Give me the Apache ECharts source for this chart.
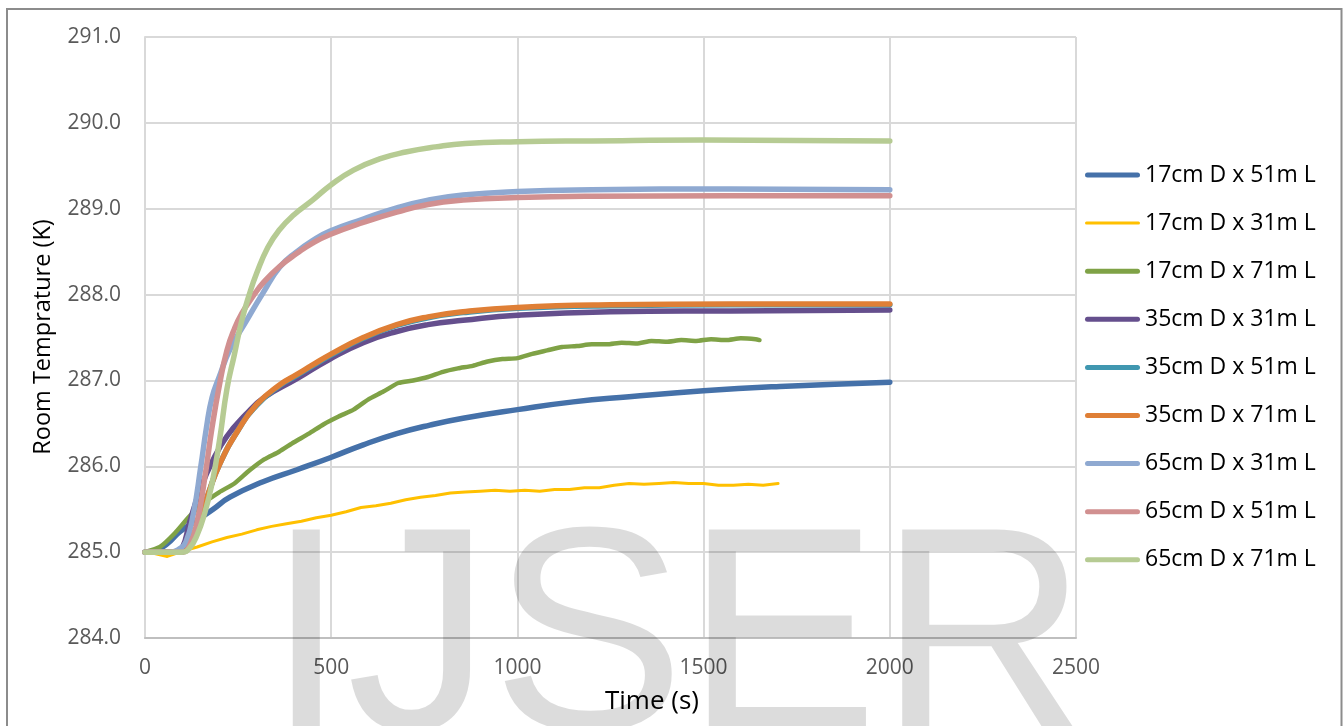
<!DOCTYPE html>
<html>
<head>
<meta charset="utf-8">
<script src="https://cdn.jsdelivr.net/npm/echarts@6/dist/echarts.min.js"></script>
<style>
  html, body { margin: 0; padding: 0; background: #ffffff; }
  #chart { width: 1343px; height: 726px; }
</style>
</head>
<body>
<div id="chart"></div>
<script>
// Axis ranges and ticks
const xTicks = [0, 500, 1000, 1500, 2000, 2500];
const yTicks = [284, 285, 286, 287, 288, 289, 290, 291];

const seriesNames = [
  '17cm D x 51m L', '17cm D x 31m L', '17cm D x 71m L',
  '35cm D x 31m L', '35cm D x 51m L', '35cm D x 71m L',
  '65cm D x 31m L', '65cm D x 51m L', '65cm D x 71m L'
];

// 17cm D x 51m L
const t17x51 = [0, 30, 60, 94, 139, 183, 228, 317, 408, 497, 586, 676, 765, 854, 1000, 1150, 1300, 1500, 1705, 2000];
const k17x51 = [285.00, 285.02, 285.10, 285.24, 285.37, 285.50, 285.64, 285.82, 285.96, 286.10, 286.25, 286.38, 286.48, 286.56, 286.66, 286.75, 286.81, 286.88, 286.93, 286.98];

// 17cm D x 31m L
const t17x31 = [0, 20, 40, 60, 80, 100, 140, 180, 220, 260, 300, 340, 380, 420, 460, 500, 540, 580, 620, 660, 700, 740, 780, 820, 860, 900, 940, 980, 1020, 1060, 1100, 1140, 1180, 1220, 1260, 1300, 1340, 1380, 1420, 1460, 1500, 1540, 1580, 1620, 1660, 1700];
const k17x31 = [285.00, 284.99, 284.97, 284.95, 284.98, 285.01, 285.06, 285.12, 285.17, 285.21, 285.26, 285.30, 285.33, 285.36, 285.40, 285.43, 285.47, 285.52, 285.54, 285.57, 285.61, 285.64, 285.66, 285.69, 285.70, 285.71, 285.72, 285.71, 285.72, 285.71, 285.73, 285.73, 285.75, 285.75, 285.78, 285.80, 285.79, 285.80, 285.81, 285.80, 285.80, 285.78, 285.78, 285.79, 285.78, 285.80];

// 17cm D x 71m L
const t17x71 = [0, 40, 80, 120, 160, 200, 240, 280, 320, 360, 400, 440, 480, 520, 560, 600, 640, 680, 720, 760, 800, 840, 880, 920, 960, 1000, 1040, 1080, 1120, 1160, 1200, 1240, 1280, 1320, 1360, 1400, 1440, 1480, 1520, 1560, 1600, 1640, 1650];
const k17x71 = [285.00, 285.06, 285.22, 285.42, 285.58, 285.70, 285.80, 285.95, 286.08, 286.17, 286.28, 286.38, 286.49, 286.58, 286.66, 286.78, 286.87, 286.97, 287.00, 287.04, 287.10, 287.14, 287.17, 287.22, 287.25, 287.26, 287.31, 287.35, 287.39, 287.40, 287.42, 287.42, 287.44, 287.43, 287.46, 287.45, 287.47, 287.46, 287.48, 287.47, 287.49, 287.48, 287.47];

// 35cm D x 31m L
const t35x31 = [0, 80, 100, 120, 150, 180, 220, 270, 320, 408, 497, 586, 676, 760, 854, 1000, 1250, 1571, 2000];
const k35x31 = [285.00, 285.00, 285.05, 285.35, 285.75, 286.05, 286.35, 286.60, 286.80, 287.02, 287.25, 287.44, 287.57, 287.65, 287.70, 287.76, 287.80, 287.81, 287.82];

// 35cm D x 51m L
const t35x51 = [0, 90, 110, 140, 170, 200, 250, 300, 362, 408, 450, 497, 586, 676, 760, 854, 1000, 1250, 1571, 2000];
const k35x51 = [285.00, 285.00, 285.04, 285.30, 285.68, 286.02, 286.42, 286.71, 286.94, 287.06, 287.17, 287.29, 287.49, 287.64, 287.73, 287.79, 287.84, 287.87, 287.88, 287.88];

// 35cm D x 71m L
const t35x71 = [0, 90, 110, 140, 170, 200, 250, 300, 362, 408, 450, 497, 586, 676, 760, 854, 1000, 1250, 1571, 2000];
const k35x71 = [285.00, 285.00, 285.04, 285.30, 285.68, 286.02, 286.42, 286.72, 286.95, 287.07, 287.18, 287.30, 287.50, 287.65, 287.74, 287.80, 287.85, 287.88, 287.89, 287.89];

// 65cm D x 31m L
const t65x31 = [0, 70, 90, 110, 130, 150, 165, 180, 200, 228, 273, 317, 362, 408, 450, 497, 586, 676, 760, 854, 1000, 1200, 1571, 2000];
const k65x31 = [285.00, 285.00, 285.03, 285.12, 285.45, 286.00, 286.45, 286.80, 287.05, 287.36, 287.70, 288.02, 288.32, 288.50, 288.63, 288.74, 288.88, 289.01, 289.10, 289.16, 289.20, 289.22, 289.23, 289.22];

// 65cm D x 51m L
const t65x51 = [0, 100, 120, 140, 160, 180, 200, 220, 240, 260, 290, 320, 362, 408, 450, 497, 586, 676, 760, 854, 1000, 1200, 1571, 2000];
const k65x51 = [285.00, 285.00, 285.08, 285.35, 285.85, 286.45, 286.95, 287.35, 287.60, 287.78, 287.98, 288.15, 288.33, 288.48, 288.60, 288.70, 288.84, 288.96, 289.05, 289.10, 289.13, 289.145, 289.15, 289.15];

// 65cm D x 71m L
const t65x71 = [0, 100, 120, 140, 160, 180, 200, 220, 240, 260, 280, 300, 330, 360, 400, 450, 500, 560, 630, 700, 780, 860, 1000, 1200, 1500, 2000];
const k65x71 = [285.00, 285.00, 285.05, 285.20, 285.45, 285.80, 286.30, 286.90, 287.30, 287.70, 288.00, 288.25, 288.55, 288.75, 288.93, 289.10, 289.28, 289.45, 289.58, 289.66, 289.72, 289.76, 289.78, 289.79, 289.80, 289.79];

const seriesTimes = [t17x51, t17x31, t17x71, t35x31, t35x51, t35x71, t65x31, t65x51, t65x71];
const seriesTemps = [k17x51, k17x31, k17x71, k35x31, k35x51, k35x71, k65x31, k65x51, k65x71];

// Line appearance for each series
const lineColors = ['#4571A9', '#FFC000', '#7FA246', '#654F8D', '#4097B0', '#DF7F36', '#8FA9D1', '#D19090', '#B6CB93'];
const lineWidths = [5.5, 3, 4.5, 5.5, 5.5, 5.5, 5.5, 5.5, 5.5];
const smoothing = [0.5, 0, 0.2, 0.5, 0.5, 0.5, 0.5, 0.5, 0.5];

// Legend swatches: rounded bars, 55 px long
const thickBar = 'path://M2.5,0 H52.5 A2.5,2.5 0 0 1 52.5,5 H2.5 A2.5,2.5 0 0 1 2.5,0 Z';
const thinBar = 'path://M1.5,0 H53.5 A1.5,1.5 0 0 1 53.5,3 H1.5 A1.5,1.5 0 0 1 1.5,0 Z';

const FONT = 'Open Sans';

const series = seriesNames.map((name, i) => ({
  name: name,
  type: 'line',
  symbol: 'none',
  smooth: smoothing[i],
  data: seriesTimes[i].map((t, j) => [t, seriesTemps[i][j]]),
  lineStyle: { color: lineColors[i], width: lineWidths[i], cap: 'round', join: 'round' },
  itemStyle: { color: lineColors[i] },
  z: 2 + i
}));

const chart = echarts.init(document.getElementById('chart'), null, { renderer: 'canvas' });

chart.setOption({
  animation: false,
  backgroundColor: '#ffffff',
  grid: { left: 145, right: 267, top: 37, bottom: 88, containLabel: false },
  xAxis: {
    type: 'value',
    min: xTicks[0],
    max: xTicks[xTicks.length - 1],
    interval: xTicks[1] - xTicks[0],
    axisLine: { show: true, lineStyle: { color: '#bfbfbf', width: 2 } },
    axisTick: { show: false },
    axisLabel: { color: '#595959', fontFamily: FONT, fontSize: 21, margin: 20, formatter: v => String(v) },
    splitLine: { show: true, lineStyle: { color: '#d9d9d9', width: 2 } }
  },
  yAxis: {
    type: 'value',
    min: yTicks[0],
    max: yTicks[yTicks.length - 1],
    interval: yTicks[1] - yTicks[0],
    axisLine: { show: true, lineStyle: { color: '#d9d9d9', width: 2 } },
    axisTick: { show: false },
    axisLabel: {
      color: '#595959', fontFamily: FONT, fontSize: 21, margin: 24,
      formatter: v => v.toFixed(1)
    },
    splitLine: { show: true, lineStyle: { color: '#d9d9d9', width: 2 } }
  },
  legend: {
    orient: 'vertical',
    left: 1085,
    top: 163.5,
    padding: 0,
    itemWidth: 55,
    itemHeight: 5,
    itemGap: 25.1,
    textStyle: { color: '#000000', fontFamily: FONT, fontSize: 23 },
    data: seriesNames.map((name, i) => ({
      name: name,
      icon: lineWidths[i] < 4 ? thinBar : thickBar,
      itemStyle: { color: lineColors[i] }
    }))
  },
  series: series,
  graphic: [
    {
      type: 'rect',
      z: 200,
      silent: true,
      shape: { x: 7, y: 9, width: 1334.5, height: 800 },
      style: { fill: 'none', stroke: '#8c8c8c', lineWidth: 2 }
    },
    {
      type: 'text',
      z: 150,
      silent: true,
      style: {
        x: 652, y: 702,
        text: 'Time (s)',
        font: '26px "Open Sans"',
        fill: '#000000',
        align: 'center',
        verticalAlign: 'middle'
      }
    },
    {
      type: 'text',
      z: 150,
      silent: true,
      x: 43, y: 337,
      rotation: Math.PI / 2,
      style: {
        x: 0, y: 0,
        text: 'Room Temprature (K)',
        font: '23.5px "Open Sans"',
        fill: '#000000',
        align: 'center',
        verticalAlign: 'middle'
      }
    },
    {
      type: 'text',
      z: 180,
      silent: true,
      style: {
        x: 266, y: 649,
        text: 'IJSER',
        font: '290px "Liberation Sans"',
        fill: 'rgba(0,0,0,0.137)',
        align: 'left',
        verticalAlign: 'middle'
      }
    }
  ]
});
</script>
</body>
</html>
